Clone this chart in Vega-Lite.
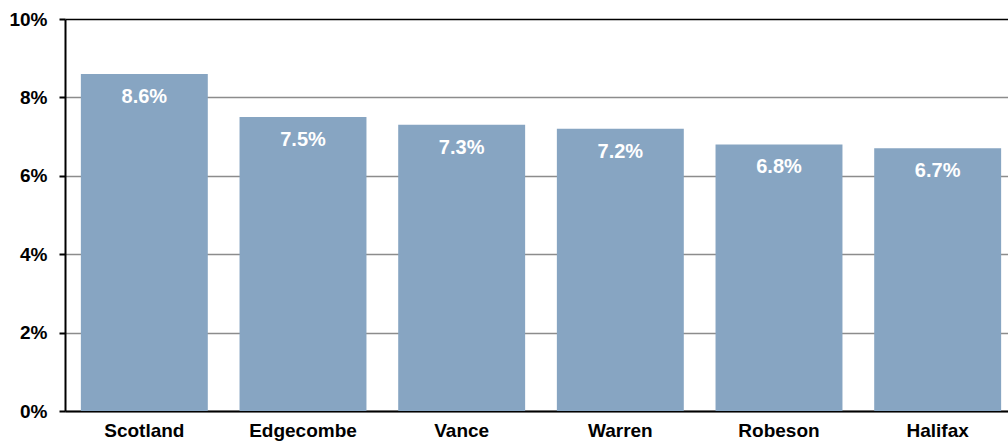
{
  "$schema": "https://vega.github.io/schema/vega-lite/v6.json",
  "autosize": "none",
  "width": 952,
  "height": 392,
  "padding": {"left": 65, "top": 19, "right": 0, "bottom": 30},
  "background": "white",
  "config": {"view": {"stroke": null}, "font": "Liberation Sans"},
  "data": {"values": [
    {"county": "Scotland", "rate": 8.6, "label": "8.6%"},
    {"county": "Edgecombe", "rate": 7.5, "label": "7.5%"},
    {"county": "Vance", "rate": 7.3, "label": "7.3%"},
    {"county": "Warren", "rate": 7.2, "label": "7.2%"},
    {"county": "Robeson", "rate": 6.8, "label": "6.8%"},
    {"county": "Halifax", "rate": 6.7, "label": "6.7%"}
  ]},
  "encoding": {
    "x": {"field": "county", "type": "nominal", "sort": null,
      "scale": {"paddingInner": 0.2, "paddingOuter": 0.1},
      "axis": {"title": null, "labelAngle": 0, "ticks": false, "labelPadding": 10,
        "labelFont": "Liberation Sans", "labelFontSize": 19, "labelFontWeight": "bold", "labelColor": "black",
        "domainColor": "black", "domainWidth": 2}},
    "y": {"field": "rate", "type": "quantitative",
      "scale": {"domain": [0, 10]},
      "axis": {"title": null, "values": [0, 2, 4, 6, 8, 10], "labelExpr": "datum.value + '%'",
        "labelFont": "Liberation Sans", "labelFontSize": 19, "labelFontWeight": "bold", "labelColor": "black",
        "labelPadding": 12, "tickSize": 6, "tickColor": "black", "tickWidth": 2,
        "domainColor": "black", "domainWidth": 2,
        "grid": true, "gridWidth": 1.5,
        "gridColor": {"condition": {"test": "datum.value === 10", "value": "black"}, "value": "#8c8c8c"}}}
  },
  "layer": [
    {"mark": {"type": "bar", "color": "#87a5c2"}},
    {"mark": {"type": "text", "color": "white", "fontWeight": "bold", "fontSize": 20, "baseline": "middle", "dy": 23, "font": "Liberation Sans"},
     "encoding": {"text": {"field": "label", "type": "nominal"}}}
  ]
}
